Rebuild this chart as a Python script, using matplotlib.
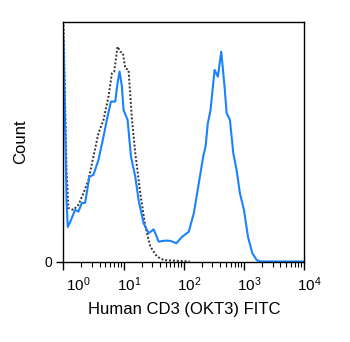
import numpy as np
import matplotlib
matplotlib.use("Agg")
import matplotlib.pyplot as plt
from matplotlib.ticker import LogLocator, NullFormatter, FixedLocator
from matplotlib.transforms import ScaledTranslation

plt.rcParams['font.family'] = ['Liberation Sans', 'DejaVu Sans']
plt.rcParams['mathtext.fontset'] = 'custom'
plt.rcParams['mathtext.rm'] = 'Liberation Sans'
plt.rcParams['mathtext.it'] = 'Liberation Sans'

# stained (blue) histogram: log10 of FITC intensity, count as % of max
stained_log = [0.003, 0.028, 0.053, 0.073, 0.128, 0.195, 0.25, 0.307, 0.362, 0.433,
               0.5, 0.583, 0.667, 0.723, 0.79, 0.862, 0.9, 0.933, 0.973, 1.0,
               1.067, 1.123, 1.195, 1.25, 1.333, 1.417, 1.5, 1.583, 1.695, 1.778,
               1.878, 1.973, 2.083, 2.167, 2.25, 2.323, 2.362, 2.4, 2.445, 2.512,
               2.567, 2.623, 2.678, 2.712, 2.767, 2.823, 2.878, 2.933, 3.0, 3.067,
               3.14, 3.212, 3.278, 4.0]
stained_cnt = [92.5, 59.2, 25.8, 14.6, 17.5, 21.7, 21.0, 24.6, 24.6, 35.5,
               36.3, 42.5, 52.2, 59.2, 66.8, 66.8, 74.5, 79.3, 73.0, 63.3,
               59.2, 43.9, 35.5, 25.8, 16.1, 12.0, 13.6, 8.5, 8.9, 8.8,
               7.8, 10.5, 12.6, 20.3, 32.8, 43.9, 48.0, 57.8, 63.3, 80.0,
               77.2, 87.6, 73.0, 62.0, 59.2, 45.3, 38.3, 28.6, 21.7, 10.5,
               3.6, 0.8, 0.2, 0.2]

# isotype control (dotted)
control_log = [0.003, 0.028, 0.053, 0.083, 0.167, 0.25, 0.333, 0.417, 0.5, 0.583,
               0.667, 0.75, 0.807, 0.845, 0.9, 0.945, 0.99, 1.028, 1.083, 1.14,
               1.195, 1.278, 1.362, 1.445, 1.557, 1.667, 1.945, 2.1]
control_cnt = [98.8, 67.5, 38.3, 22.5, 21.7, 23.8, 28.6, 34.2, 43.9, 53.6,
               59.2, 68.9, 78.6, 79.3, 89.7, 87.6, 87.0, 80.7, 80.0, 59.2,
               45.3, 28.6, 14.7, 6.4, 2.2, 0.8, 0.4, 0.2]

fig = plt.figure(figsize=(3.5, 3.42), dpi=100)
ax = fig.add_axes([0.181, 0.234, 0.688, 0.702])

ax.plot(10 ** np.array(control_log), control_cnt, color='#333333', lw=1.4,
        linestyle=(0, (1, 1)))
ax.plot(10 ** np.array(stained_log), stained_cnt, color='#1a82ff', lw=1.5)

ax.set_xscale('log')
ax.set_xlim(1, 1e4)
ax.set_ylim(0, 100)

ax.xaxis.set_major_locator(FixedLocator([1, 10, 100, 1000, 10000]))
ax.set_xticklabels([r'$10^{%d}$' % i for i in range(5)], fontsize=11)
ax.xaxis.set_minor_locator(LogLocator(base=10, subs=np.arange(2, 10)))
ax.xaxis.set_minor_formatter(NullFormatter())
ax.tick_params(axis='x', which='major', length=6, width=1, direction='out', pad=4)
ax.tick_params(axis='x', which='minor', length=3.5, width=0.8, direction='out')

ax.set_yticks([0])
ax.set_yticklabels(['0'], fontsize=10)
ax.tick_params(axis='y', length=5, width=1, direction='out', pad=3)

for i, lab in enumerate(ax.get_xticklabels()):
    dx = 11 / 72 if i == 0 else 4 / 72
    lab.set_transform(lab.get_transform() + ScaledTranslation(dx, 0, fig.dpi_scale_trans))

for s in ax.spines.values():
    s.set_linewidth(1)
    s.set_color('black')

ax.set_xlabel('Human CD3 (OKT3) FITC', fontsize=12)
ax.xaxis.set_label_coords(0.5, -0.165)
ax.set_ylabel('Count', fontsize=12)
ax.yaxis.set_label_coords(-0.145, 0.5)

fig.savefig('out.png', dpi=100)
